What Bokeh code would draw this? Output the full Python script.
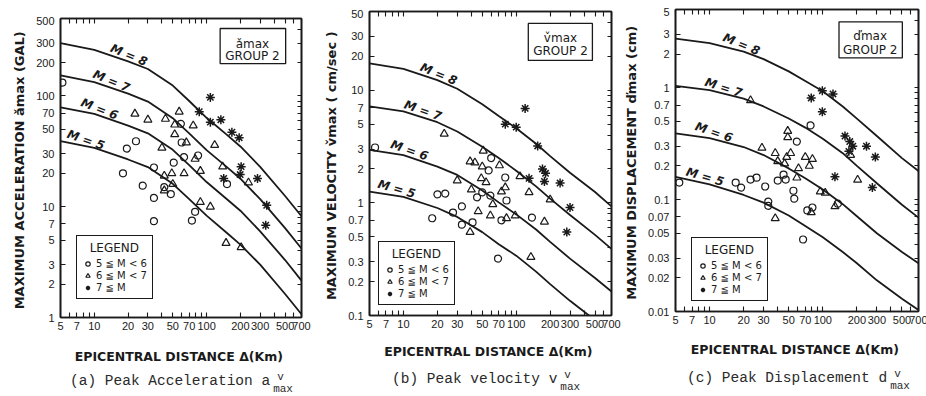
from bokeh.plotting import figure
from bokeh.layouts import row, column
from bokeh.models import Range1d, FixedTicker, LogAxis, BoxAnnotation, Div, Spacer
from bokeh.core.properties import value
from bokeh.embed import file_html
from bokeh.resources import INLINE

# ---------------- data ----------------
# distances (km) at which the attenuation curves were read
curve_dist = [5, 10, 20, 30, 50, 70, 100, 150, 200, 300, 500, 700]

# (a) peak acceleration (gal)
acc_m8 = [300, 261, 205, 175, 124, 90, 63.5, 45, 35, 22.9, 12.5, 8.2]
acc_m7 = [153, 133, 105, 89, 63, 46, 32.4, 23, 17.9, 11.7, 6.4, 4.2]
acc_m6 = [79, 69, 54, 46, 32.6, 23.7, 16.7, 11.8, 9.2, 6.0, 3.3, 2.15]
acc_m5 = [39, 34, 26.7, 22.8, 16.1, 11.7, 8.3, 5.85, 4.55, 3.0, 1.63, 1.07]
acc_c_x = [5.2, 19.5, 23.5, 18, 27, 34, 34, 34, 42, 48, 51, 59, 60, 63, 84, 74, 79, 152]
acc_c_y = [132, 33.5, 39, 20, 15.5, 22.6, 12, 7.4, 15, 13, 25, 56, 38, 28, 29, 7.5, 9, 16]
acc_t_x = [23, 30, 43, 57, 52, 76, 52, 66, 118, 40, 79, 139, 88, 42, 49, 63, 50, 42, 88, 108, 236, 149, 203]
acc_t_y = [69, 61, 62, 72, 55, 54, 45, 38, 36, 34, 27, 23, 21, 19, 20, 20, 16, 14, 11, 10, 16.5, 4.7, 4.3]
acc_s_x = [108, 86, 108, 134, 168, 195, 203, 199, 142, 284, 343, 336]
acc_s_y = [97, 72, 58, 61, 47, 42, 23, 19.5, 18, 18, 10.3, 6.8]

# (b) peak velocity (cm/sec)
vel_m8 = [17.3, 15.5, 12.3, 10.3, 7.5, 5.9, 4.6, 3.35, 2.6, 1.85, 1.25, 0.93]
vel_m7 = [7.2, 6.5, 5.2, 4.3, 3.15, 2.5, 1.93, 1.4, 1.09, 0.78, 0.52, 0.39]
vel_m6 = [2.95, 2.65, 2.1, 1.77, 1.29, 1.01, 0.79, 0.58, 0.45, 0.32, 0.215, 0.163]
vel_m5 = [1.26, 1.13, 0.9, 0.75, 0.55, 0.43, 0.34, 0.245, 0.19, 0.135, 0.091, 0.068]
vel_c_x = [5.6, 60, 57, 80, 50, 45, 59, 82, 20, 23.5, 33, 27.5, 18, 33, 41, 74, 138, 69]
vel_c_y = [3.1, 2.5, 1.94, 1.68, 1.24, 1.12, 1.16, 1.05, 1.19, 1.21, 0.93, 0.82, 0.73, 0.64, 0.67, 0.70, 0.74, 0.32]
vel_t_x = [23, 51, 39, 43, 50, 71, 30, 49, 54, 40, 80, 74, 62, 108, 130, 200, 46, 59, 82, 98, 178, 39, 135]
vel_t_y = [4.1, 2.9, 2.33, 2.28, 2.1, 2.15, 1.58, 1.65, 1.52, 1.31, 1.37, 1.26, 0.97, 1.72, 1.24, 1.07, 0.84, 0.77, 0.73, 0.77, 0.68, 0.55, 0.33]
vel_s_x = [120, 80, 100, 155, 171, 182, 178, 245, 130, 300, 281]
vel_s_y = [6.9, 5.0, 4.7, 3.2, 2.0, 1.83, 1.55, 1.5, 1.65, 0.91, 0.55]

# (c) peak displacement (cm)
dis_m8 = [2.74, 2.5, 2.1, 1.8, 1.4, 1.15, 0.93, 0.68, 0.53, 0.37, 0.235, 0.18]
dis_m7 = [1.04, 0.95, 0.8, 0.68, 0.53, 0.44, 0.35, 0.26, 0.2, 0.14, 0.09, 0.069]
dis_m6 = [0.39, 0.355, 0.295, 0.25, 0.19, 0.155, 0.123, 0.091, 0.071, 0.05, 0.034, 0.027]
dis_m5 = [0.16, 0.137, 0.11, 0.094, 0.072, 0.058, 0.046, 0.034, 0.027, 0.019, 0.013, 0.0103]
dis_c_x = [5.4, 17, 19, 23, 26, 31, 33, 33, 40, 47, 45, 59, 78, 55, 56, 73, 81, 136, 67]
dis_c_y = [0.142, 0.142, 0.128, 0.151, 0.157, 0.131, 0.096, 0.088, 0.148, 0.151, 0.167, 0.33, 0.46, 0.12, 0.102, 0.080, 0.085, 0.092, 0.044]
dis_t_x = [23, 49, 49, 29, 38, 52, 48, 40, 46, 61, 70, 81, 76, 59, 95, 105, 128, 176, 203, 38, 79]
dis_t_y = [0.77, 0.41, 0.36, 0.29, 0.26, 0.26, 0.24, 0.22, 0.21, 0.19, 0.24, 0.23, 0.2, 0.157, 0.118, 0.115, 0.087, 0.25, 0.15, 0.068, 0.077]
dis_s_x = [99, 123, 79, 99, 157, 173, 184, 170, 243, 291, 128, 274]
dis_s_y = [0.94, 0.88, 0.81, 0.61, 0.37, 0.33, 0.30, 0.27, 0.30, 0.24, 0.16, 0.128]

curve_names = ["M = 8", "M = 7", "M = 6", "M = 5"]
legend_names = ["5 \u2266 M < 6", "6 \u2266 M < 7", "7 \u2266 M"]

# ticks
x_ticks = [5, 6, 7, 8, 9, 10, 20, 30, 40, 50, 60, 70, 80, 90, 100, 200, 300, 400, 500, 600, 700]
x_tick_labels = [5, 7, 10, 20, 30, 50, 70, 100, 200, 300, 500, 700]
acc_ticks = [1, 2, 3, 5, 7, 10, 20, 30, 50, 70, 100, 200, 300, 500]
acc_ticks_all = [1, 2, 3, 4, 5, 6, 7, 8, 9, 10, 20, 30, 40, 50, 60, 70, 80, 90, 100, 200, 300, 400, 500]
vel_ticks = [0.1, 0.2, 0.3, 0.5, 0.7, 1, 2, 3, 5, 7, 10, 20, 30, 50]
vel_ticks_all = [0.1, 0.2, 0.3, 0.4, 0.5, 0.6, 0.7, 0.8, 0.9, 1, 2, 3, 4, 5, 6, 7, 8, 9, 10, 20, 30, 40, 50]
dis_ticks = [0.01, 0.02, 0.03, 0.05, 0.07, 0.1, 0.2, 0.3, 0.5, 0.7, 1, 2, 3, 5]
dis_ticks_all = [0.01, 0.02, 0.03, 0.04, 0.05, 0.06, 0.07, 0.08, 0.09, 0.1, 0.2, 0.3, 0.4, 0.5,
                 0.6, 0.7, 0.8, 0.9, 1, 2, 3, 4, 5]

INK = "#1a1a1a"


def lbl_map(ticks, shown):
    return {t: ("%g" % t if t in shown else "") for t in ticks}


def style_axis(ax, labels):
    ax.axis_line_color = INK
    ax.axis_line_width = 1.6
    ax.major_tick_line_color = INK
    ax.major_tick_line_width = 1.1
    ax.major_tick_in = 5
    ax.major_tick_out = 0
    ax.minor_tick_line_color = None
    ax.major_label_text_font = "Liberation Sans"
    ax.major_label_text_font_size = "11px"
    ax.major_label_text_color = INK
    ax.major_label_overrides = labels


def make_panel(cfg):
    p = figure(x_axis_type="log", y_axis_type="log",
               x_range=Range1d(5, 700), y_range=Range1d(cfg["ylo"], cfg["yhi"]),
               frame_width=cfg["fw"], frame_height=cfg["fh"],
               min_border_left=cfg["bl"], min_border_right=cfg["br"],
               min_border_top=2, min_border_bottom=cfg["bb"],
               output_backend="svg", toolbar_location=None)
    p.grid.visible = False
    p.outline_line_color = INK
    p.outline_line_width = 1.6
    p.border_fill_color = "white"

    xa = p.xaxis[0]
    xa.ticker = FixedTicker(ticks=x_ticks)
    style_axis(xa, lbl_map(x_ticks, x_tick_labels))
    xa.major_label_standoff = 4
    xa.axis_label = "EPICENTRAL DISTANCE  \u0394(Km)"
    xa.axis_label_text_font = "DejaVu Sans"
    xa.axis_label_text_font_style = "bold"
    xa.axis_label_text_font_size = "12.5px"
    xa.axis_label_text_color = INK
    xa.axis_label_standoff = cfg["xls"]

    ya = p.yaxis[0]
    ya.ticker = FixedTicker(ticks=cfg["yt"])
    style_axis(ya, lbl_map(cfg["yt"], cfg["yt"]))
    ya.major_label_standoff = 6
    ya.axis_label = cfg["ytitle"]
    ya.axis_label_text_font = "DejaVu Sans"
    ya.axis_label_text_font_style = "bold"
    ya.axis_label_text_font_size = "13px"
    ya.axis_label_text_color = INK
    ya.axis_label_standoff = 6

    top = LogAxis(ticker=FixedTicker(ticks=x_ticks))
    style_axis(top, {t: "" for t in x_ticks})
    top.major_label_standoff = 0
    top.major_label_text_font_size = "0px"
    p.add_layout(top, "above")
    right = LogAxis(ticker=FixedTicker(ticks=cfg["yt_all"]))
    style_axis(right, {t: "" for t in cfg["yt_all"]})
    right.major_label_standoff = 0
    right.major_label_text_font_size = "0px"
    right.major_tick_in = 4
    p.add_layout(right, "right")

    for ys in cfg["curves"]:
        p.line(curve_dist, ys, line_color=INK, line_width=1.8)

    p.text(x=cfg["lbl_x"], y=cfg["lbl_y"], text=curve_names, angle=cfg["lbl_ang"],
           text_font=value("DejaVu Sans"), text_font_style="bold italic",
           text_font_size="12px", text_align="center", text_baseline="middle",
           text_color=INK)

    cx, cy = cfg["circles"]
    tx, ty = cfg["triangles"]
    sx, sy = cfg["stars"]
    p.scatter(cx, cy, marker="circle", size=7, fill_color=None, line_color=INK,
              line_width=1.2, legend_label=legend_names[0])
    p.scatter(tx, ty, marker="triangle", size=8, fill_color=None, line_color=INK,
              line_width=1.2, legend_label=legend_names[1])
    p.scatter(sx, sy, marker="asterisk", size=9, line_color=INK,
              line_width=1.5, legend_label=legend_names[2])

    lg = p.legend[0]
    lg.location = cfg["leg_loc"]
    lg.title = "\u00a0\u00a0LEGEND"
    lg.title_text_font = "DejaVu Sans"
    lg.title_text_font_size = "12px"
    lg.title_text_font_style = "normal"
    lg.title_text_color = INK
    lg.title_standoff = 3
    lg.label_text_font = "DejaVu Sans"
    lg.label_text_font_size = "10px"
    lg.label_text_color = INK
    lg.label_standoff = 3
    lg.label_height = 11
    lg.glyph_width = 11
    lg.glyph_height = 11
    lg.spacing = 1
    lg.padding = 5
    lg.margin = 0
    lg.border_line_color = INK
    lg.border_line_width = 1.4
    lg.border_line_alpha = 1
    lg.background_fill_alpha = 1

    bl_, br_, bb_, bt_ = cfg["box"]
    p.add_layout(BoxAnnotation(left=bl_, right=br_, bottom=bb_, top=bt_,
                               fill_alpha=0, line_color=INK, line_alpha=1, line_width=1.3))
    bx, by1, by2 = cfg["box_text_pos"]
    p.text(x=[bx, bx], y=[by1, by2], text=[cfg["box_sym"], "GROUP 2"],
           text_font=value("DejaVu Sans"), text_font_size="12px",
           text_align="center", text_baseline="middle", text_color=INK)

    fig_w = cfg["bl"] + cfg["fw"] + cfg["br"]
    cap_html = (
        '<div style="font-family:\'Liberation Mono\',monospace;font-size:14.5px;color:#2a2a2a;'
        'line-height:20px;white-space:nowrap;overflow:visible;">' + cfg["cap"] +
        '<span style="position:relative;display:inline-block;width:26px;height:1px;">'
        '<span style="position:absolute;left:7px;top:-12px;font-size:11px;line-height:11px;">v</span>'
        '<span style="position:absolute;left:3px;top:0px;font-size:11px;line-height:11px;">max</span>'
        '</span></div>'
    )
    cap = Div(text=cap_html, width=fig_w - cfg["cap_left"], height=22,
              margin=(cfg["cap_top"], 0, 0, cfg["cap_left"]),
              styles={"overflow": "visible"})
    return column(Spacer(height=cfg["top"], width=fig_w), p, cap)


pa = make_panel(dict(
    ylo=1, yhi=500, fw=241, fh=299, bl=60, br=10, top=16, bb=50, xls=16,
    yt=acc_ticks, yt_all=acc_ticks_all,
    ytitle="MAXIMUM ACCELERATION  \u01cemax (GAL)",
    curves=[acc_m8, acc_m7, acc_m6, acc_m5],
    lbl_x=[20.3, 14.2, 11.1, 8.4], lbl_y=[234, 136, 76, 40],
    lbl_ang=[-0.40, -0.40, -0.37, -0.33],
    circles=(acc_c_x, acc_c_y), triangles=(acc_t_x, acc_t_y), stars=(acc_s_x, acc_s_y),
    leg_loc=(16, 18),
    box=(132, 506, 196, 406), box_text_pos=(256, 297, 227), box_sym="\u01cemax",
    cap="(a) Peak Acceleration a", cap_left=70, cap_top=4,
))

pb = make_panel(dict(
    ylo=0.1, yhi=50, fw=242, fh=304, bl=58, br=10, top=9, bb=50, xls=13,
    yt=vel_ticks, yt_all=vel_ticks_all,
    ytitle="MAXIMUM VELOCITY  v\u030cmax ( cm/sec )",
    curves=[vel_m8, vel_m7, vel_m6, vel_m5],
    lbl_x=[20.5, 14.9, 11.3, 8.7], lbl_y=[13.9, 6.6, 2.93, 1.33],
    lbl_ang=[-0.40, -0.33, -0.33, -0.28],
    circles=(vel_c_x, vel_c_y), triangles=(vel_t_x, vel_t_y), stars=(vel_s_x, vel_s_y),
    leg_loc=(9, 10),
    box=(128, 474, 18.4, 39.2), box_text_pos=(247, 28.8, 22.1), box_sym="v\u030cmax",
    cap="(b) Peak velocity v", cap_left=81, cap_top=4,
))

pc = make_panel(dict(
    ylo=0.01, yhi=5, fw=243, fh=302, bl=53, br=9, top=7, bb=50, xls=15,
    yt=dis_ticks, yt_all=dis_ticks_all,
    ytitle="MAXIMUM DISPLACEMENT  d\u030cmax (cm)",
    curves=[dis_m8, dis_m7, dis_m6, dis_m5],
    lbl_x=[19.1, 13.3, 10.9, 9.1], lbl_y=[2.44, 1.0, 0.40, 0.16],
    lbl_ang=[-0.40, -0.31, -0.33, -0.28],
    circles=(dis_c_x, dis_c_y), triangles=(dis_t_x, dis_t_y), stars=(dis_s_x, dis_s_y),
    leg_loc=(16, 10),
    box=(139, 504, 1.85, 3.88), box_text_pos=(262, 2.91, 2.18), box_sym="d\u030cmax",
    cap="(c) Peak Displacement d", cap_left=66, cap_top=7,
))

layout = row(pa, pb, pc)
open("out.html", "w").write(file_html(layout, INLINE))
